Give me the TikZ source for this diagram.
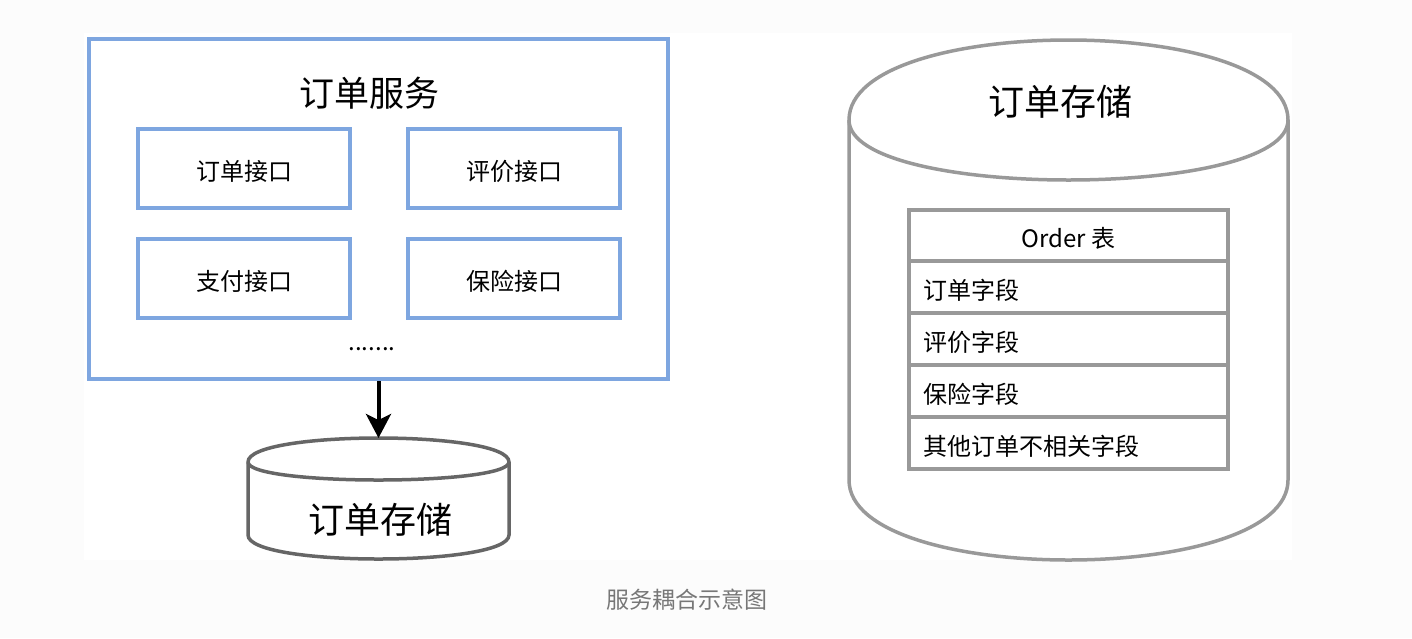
\documentclass[tikz,border=0pt]{standalone}
\usepackage{fontspec}
\setmainfont{Noto Sans CJK SC}
\usetikzlibrary{arrows.meta}
\definecolor{bluebd}{HTML}{7EA6E0}
\definecolor{gdark}{HTML}{666666}
\definecolor{glight}{HTML}{999999}
\definecolor{pagebg}{HTML}{FCFCFC}
\definecolor{capgray}{HTML}{777777}
\newcommand\drawiocyl[6]{%
  \draw[#1, line width=3.5pt, fill=white]
    ({#2},{#3+#6}) .. controls ({#2},{#3-#6/3}) and ({#2+#4},{#3-#6/3}) .. ({#2+#4},{#3+#6})
    -- ({#2+#4},{#3+#5-#6}) .. controls ({#2+#4},{#3+#5+#6/3}) and ({#2},{#3+#5+#6/3}) .. ({#2},{#3+#5-#6}) -- cycle;
  \draw[#1, line width=3.5pt]
    ({#2},{#3+#6}) .. controls ({#2},{#3+2*#6}) and ({#2+#4},{#3+2*#6}) .. ({#2+#4},{#3+#6});}
\begin{document}
\begin{tikzpicture}[x=1pt,y=-1pt,
  outerbox/.style={draw=bluebd, line width=4pt, minimum width=579pt, minimum height=340pt, inner sep=0pt},
  ifacebox/.style={draw=bluebd, line width=4pt, minimum width=212pt, minimum height=79pt, inner sep=0pt,
     text height=24pt, text depth=0pt, font=\fontsize{24}{28}\selectfont},
  bigtext/.style={font=\fontsize{36}{40}\selectfont, inner sep=0pt},
  rowbox/.style={draw=glight, line width=3.5pt, minimum width=319pt, minimum height=52pt, inner sep=0pt,
     outer sep=0pt, text height=24pt, text depth=0pt, font=\fontsize{24}{28}\selectfont},
  rowleft/.style={rowbox, text width=291pt, inner xsep=14pt, align=left},
  holder/.style={inner sep=0pt, outer sep=0pt}]
\useasboundingbox (0,0) rectangle (1412,638);
\fill[pagebg] (0,0) rectangle (1412,638);
\fill[white] (84,33) rectangle (1292,560);

% left: order service
\node[outerbox] (svc) at (378.5,209) {};
\node[bigtext, font=\fontsize{35}{40}\selectfont] (svctitle) at (369,93) {订单服务};
\node[ifacebox] (i1) at (244,168.5) {订单接口};
\node[ifacebox] (i2) at (514,168.5) {评价接口};
\node[ifacebox] (i3) at (244,278.5) {支付接口};
\node[ifacebox] (i4) at (514,278.5) {保险接口};
\node[anchor=base, inner sep=0pt, font=\fontsize{24}{28}\selectfont] (dots) at (372,350) {.......};

% small storage cylinder
\drawiocyl{gdark}{248}{438}{261}{121}{24}
\node[holder, minimum width=261pt, minimum height=121pt] (db1) at (378.5,498.5) {};
\node[bigtext] (db1label) at (380,520) {订单存储};
\draw[line width=4pt, -{Stealth[length=24pt,width=25pt,inset=6pt]}] (svc.south) -- (db1.north);

% big storage cylinder
\drawiocyl{glight}{849}{40}{439}{520}{80}
\node[holder, minimum width=439pt, minimum height=520pt] (db2) at (1068.5,300) {};
\node[bigtext] (db2label) at (1060,102) {订单存储};

% order table
\node[rowbox, minimum height=51pt, anchor=north] (thead) at (1068.5,210) {Order 表};
\node[rowleft, anchor=north] (r1) at (thead.south) {订单字段};
\node[rowleft, anchor=north] (r2) at (r1.south) {评价字段};
\node[rowleft, anchor=north] (r3) at (r2.south) {保险字段};
\node[rowleft, anchor=north] (r4) at (r3.south) {其他订单不相关字段};

% caption
\node[inner sep=0pt, text=capgray, font=\fontsize{23}{26}\selectfont] (caption) at (687,600) {服务耦合示意图};
\end{tikzpicture}
\end{document}
